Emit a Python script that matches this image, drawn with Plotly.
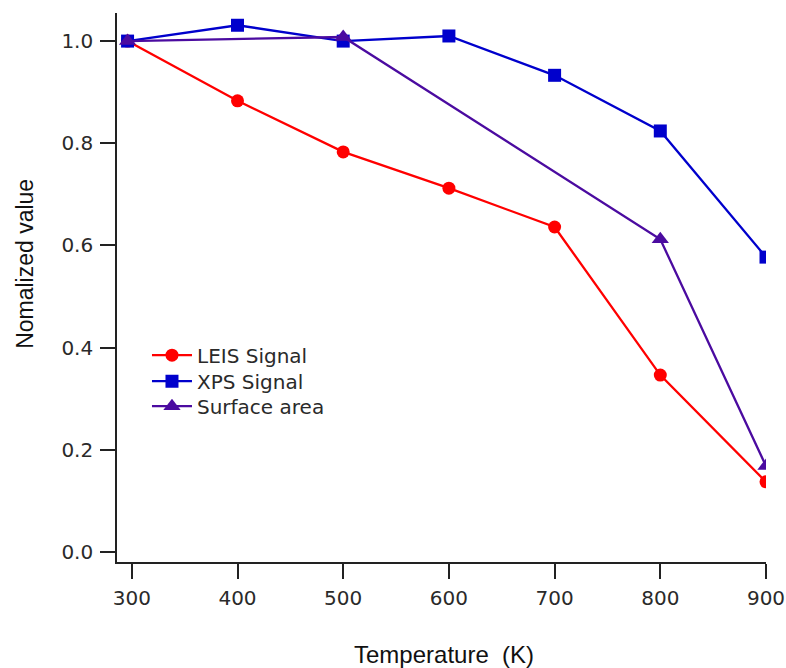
import plotly.graph_objects as go

temps = [296, 400, 500, 600, 700, 800, 900]
leis = [1.0, 0.883, 0.783, 0.712, 0.636, 0.346, 0.137]
xps = [1.0, 1.031, 1.0, 1.01, 0.933, 0.824, 0.577]
sa_temps = [296, 500, 800, 900]
surface_area = [1.0, 1.008, 0.612, 0.168]

x_ticks = [300, 400, 500, 600, 700, 800, 900]
y_ticks = [0.0, 0.2, 0.4, 0.6, 0.8, 1.0]

FONT = "DejaVu Sans"
TITLE_FONT = "Liberation Sans"
TXT = "#2a2a2a"
AX = "#222222"

fig = go.Figure()
fig.add_trace(go.Scatter(x=temps, y=leis, mode="lines+markers", name="LEIS Signal",
                         legend="legend",
                         line=dict(color="#FF0000", width=2.3),
                         marker=dict(symbol="circle", size=13, color="#FF0000")))
fig.add_trace(go.Scatter(x=temps, y=xps, mode="lines+markers", name="XPS Signal",
                         legend="legend2",
                         line=dict(color="#0000CC", width=2.3),
                         marker=dict(symbol="square", size=13, color="#0000CC")))
fig.add_trace(go.Scatter(x=sa_temps, y=surface_area, mode="lines+markers", name="Surface area",
                         legend="legend3",
                         line=dict(color="#4B0BA0", width=2.3),
                         marker=dict(symbol="triangle-up", size=15, color="#4B0BA0")))

def leg(y):
    return dict(x=0.0462, y=y, xanchor="left", yanchor="top", itemwidth=40,
                bgcolor="rgba(0,0,0,0)", font=dict(family=FONT, size=20, color=TXT))

fig.update_layout(
    width=786, height=668,
    margin=dict(l=117, r=20, t=13, b=106),
    paper_bgcolor="white", plot_bgcolor="white",
    font=dict(family=FONT, size=20, color=TXT),
    showlegend=True,
    legend=leg(0.4122),
    legend2=leg(0.3649),
    legend3=leg(0.3193),
    annotations=[
        dict(text="Temperature  (K)", xref="paper", yref="paper", x=0.504, y=-0.169,
             xanchor="center", yanchor="middle", showarrow=False,
             font=dict(family=TITLE_FONT, size=24, color="#111111")),
        dict(text="Nomalized value", xref="paper", yref="paper", x=-0.1418, y=0.543,
             xanchor="center", yanchor="middle", showarrow=False, textangle=-90,
             font=dict(family=TITLE_FONT, size=23, color="#111111")),
    ],
)
fig.update_xaxes(range=[286, 900], tickvals=x_ticks, ticktext=[str(v) for v in x_ticks],
                 automargin=False,
                 showgrid=False, zeroline=False, showline=True, linecolor=AX, linewidth=1.6,
                 ticks="outside", ticklen=15, tickwidth=1.6, tickcolor=AX,
                 ticklabelstandoff=2,
                 tickfont=dict(family=FONT, size=20, color=TXT))
fig.update_yaxes(range=[-0.02, 1.055], tickvals=y_ticks, ticktext=[f"{v:.1f}" for v in y_ticks],
                 automargin=False,
                 showgrid=False, zeroline=False, showline=True, linecolor=AX, linewidth=1.6,
                 ticks="outside", ticklen=15, tickwidth=1.6, tickcolor=AX,
                 ticklabelstandoff=3,
                 tickfont=dict(family=FONT, size=20, color=TXT))

fig.write_html("out.html")
